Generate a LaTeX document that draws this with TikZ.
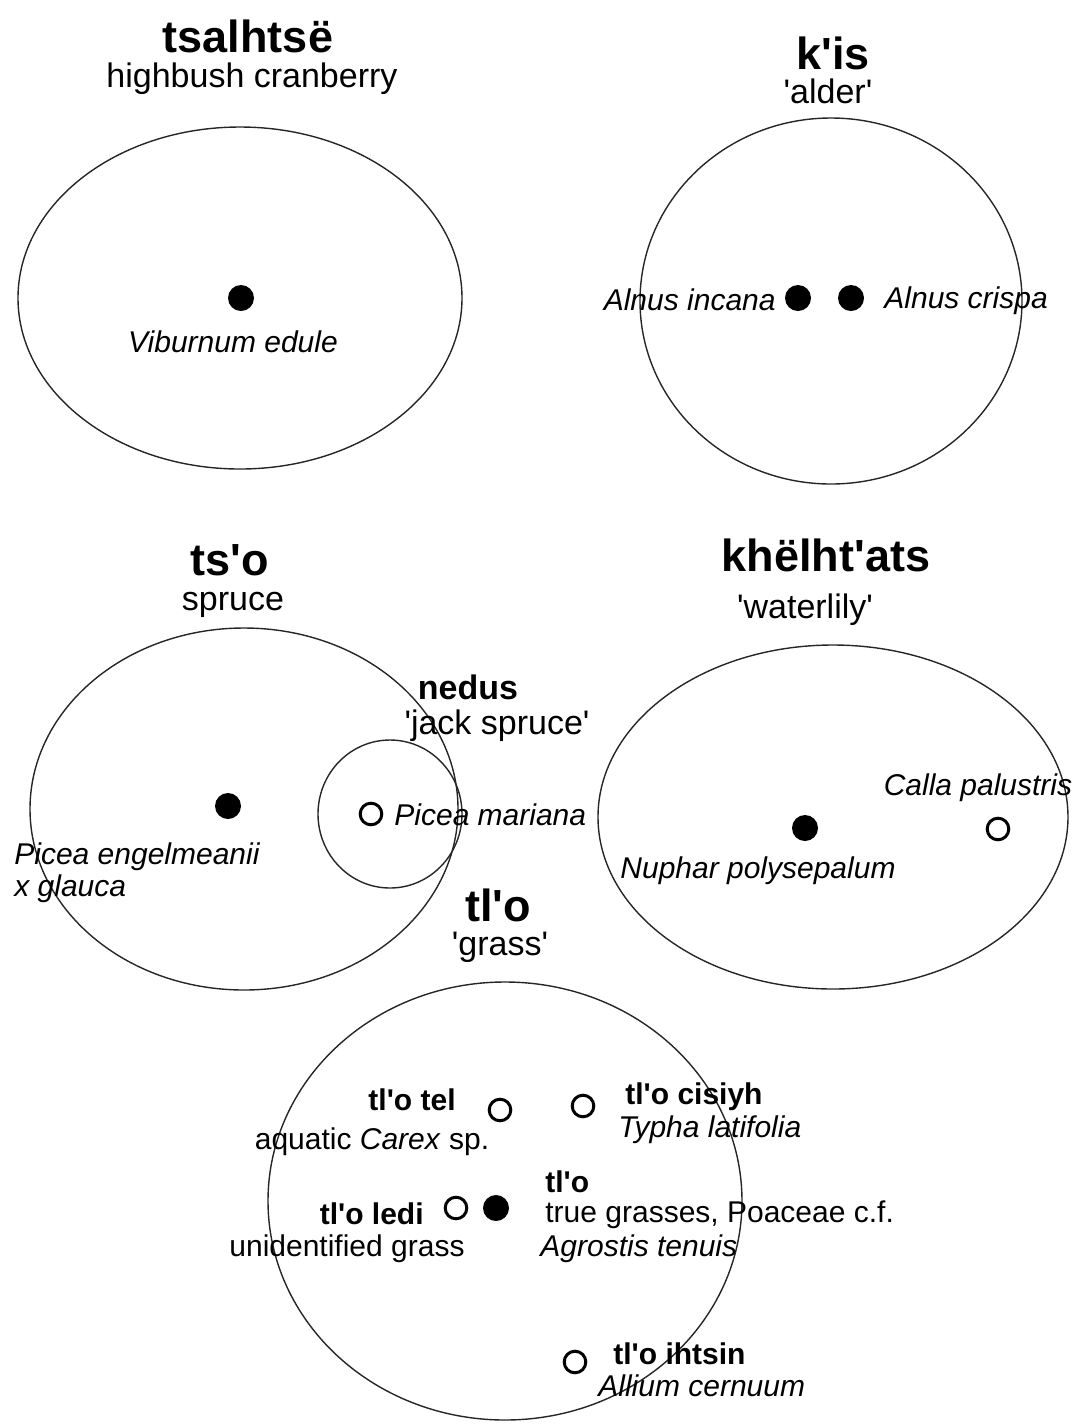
\documentclass[tikz,border=0pt]{standalone}
\usepackage{fontspec}
\setmainfont{Liberation Sans}
\usepackage{tikz}
\newcommand{\apo}{\textquotesingle}

\begin{document}
\begin{tikzpicture}[
    x=0.5pt, y=-0.5pt,
    ring/.style={draw=black!85, line width=0.7pt},
    fulldot/.style={circle, fill=black, inner sep=0pt, minimum size=13pt},
    opendot/.style={circle, draw=black, line width=1.5pt, inner sep=0pt, minimum size=10.8pt},
    title/.style={inner sep=0pt, font=\fontsize{22.5}{26}\selectfont\bfseries},
    gloss/.style={inner sep=0pt, font=\fontsize{17}{20}\selectfont},
    subname/.style={inner sep=0pt, font=\fontsize{15}{18}\selectfont\bfseries},
    taxon/.style={inner sep=0pt, font=\fontsize{15}{18}\selectfont\itshape},
    note/.style={inner sep=0pt, font=\fontsize{15}{18}\selectfont},
]
\useasboundingbox (0,0) rectangle (1078,1426);

% Top left: tsalhtse
\draw[ring] (240,298) ellipse [x radius=222, y radius=171];
\node[title, anchor=base] (tsalhtse) at (248,52) {tsalhtsë};
\node[gloss, anchor=base] (cranberry) at (252,87) {highbush cranberry};
\node[fulldot] (viburnum) at (241,298) {};
\node[taxon, anchor=base] (viburnumlbl) at (233,352) {Viburnum edule};

% Top right: k'is
\draw[ring] (831,301) ellipse [x radius=191, y radius=183];
\node[title, anchor=base] (kis) at (833,69) {k\apo is};
\node[gloss, anchor=base] (alder) at (828,103) {\apo alder\apo};
\node[fulldot] (incana) at (798,298) {};
\node[fulldot] (crispa) at (851,298) {};
\node[taxon, anchor=base east] (incanalbl) at (776,310) {Alnus incana};
\node[taxon, anchor=base west] (crispalbl) at (884,308) {Alnus crispa};

% Middle left: ts'o and nedus
\draw[ring] (244,809) ellipse [x radius=214, y radius=181];
\draw[ring] (390,814) ellipse [x radius=72, y radius=74];
\node[title, anchor=base] (tso) at (230,575) {ts\apo o};
\node[gloss, anchor=base] (spruce) at (233,610) {spruce};
\node[fulldot] (engelm) at (228,806) {};
\node[taxon, anchor=base west] (engelmlbl) at (14,864) {Picea engelmeanii};
\node[taxon, anchor=base west] (glaucalbl) at (14,896) {x glauca};
\node[gloss, anchor=base, font=\fontsize{17}{20}\selectfont\bfseries] (nedus) at (468,699) {nedus};
\node[gloss, anchor=base] (jack) at (497,734) {\apo jack spruce\apo};
\node[opendot] (mariana) at (371,814) {};
\node[taxon, anchor=base west] (marianalbl) at (394,825) {Picea mariana};

% Middle right: khelht'ats
\draw[ring] (833,817) ellipse [x radius=235, y radius=172];
\node[title, anchor=base] (khelhtats) at (826,571) {khëlht\apo ats};
\node[gloss, anchor=base] (waterlily) at (805,618) {\apo waterlily\apo};
\node[fulldot] (nuphar) at (805,828) {};
\node[taxon, anchor=base] (nupharlbl) at (758,878) {Nuphar polysepalum};
\node[opendot] (calla) at (998,829) {};
\node[taxon, anchor=base] (callalbl) at (978,795) {Calla palustris};

% Bottom: tl'o
\draw[ring] (505,1201) ellipse [x radius=237, y radius=219];
\node[title, anchor=base] (tlo) at (498,921) {tl\apo o};
\node[gloss, anchor=base] (grass) at (500,955) {\apo grass\apo};
\node[opendot] (tel) at (500,1110) {};
\node[subname, anchor=base east] (tellbl) at (456,1110) {tl\apo o tel};
\node[note, anchor=base] (carex) at (372,1149) {aquatic \textit{Carex} sp.};
\node[opendot] (cisiyh) at (583,1106) {};
\node[subname, anchor=base west] (cisiyhlbl) at (625,1104) {tl\apo o cisiyh};
\node[taxon, anchor=base west] (typha) at (618,1137) {Typha latifolia};
\node[opendot] (ledi) at (456,1208) {};
\node[fulldot] (poaceae) at (496,1208) {};
\node[subname, anchor=base east] (ledilbl) at (424,1224) {tl\apo o ledi};
\node[note, anchor=base] (unident) at (347,1256) {unidentified grass};
\node[subname, anchor=base west] (tlosub) at (545,1192) {tl\apo o};
\node[note, anchor=base west] (truegrass) at (545,1222) {true grasses, Poaceae c.f.};
\node[taxon, anchor=base west] (agrostis) at (540,1256) {Agrostis tenuis};
\node[opendot] (ihtsin) at (575,1362) {};
\node[subname, anchor=base west] (ihtsinlbl) at (613,1364) {tl\apo o ihtsin};
\node[taxon, anchor=base west] (allium) at (598,1396) {Allium cernuum};

\end{tikzpicture}
\end{document}
